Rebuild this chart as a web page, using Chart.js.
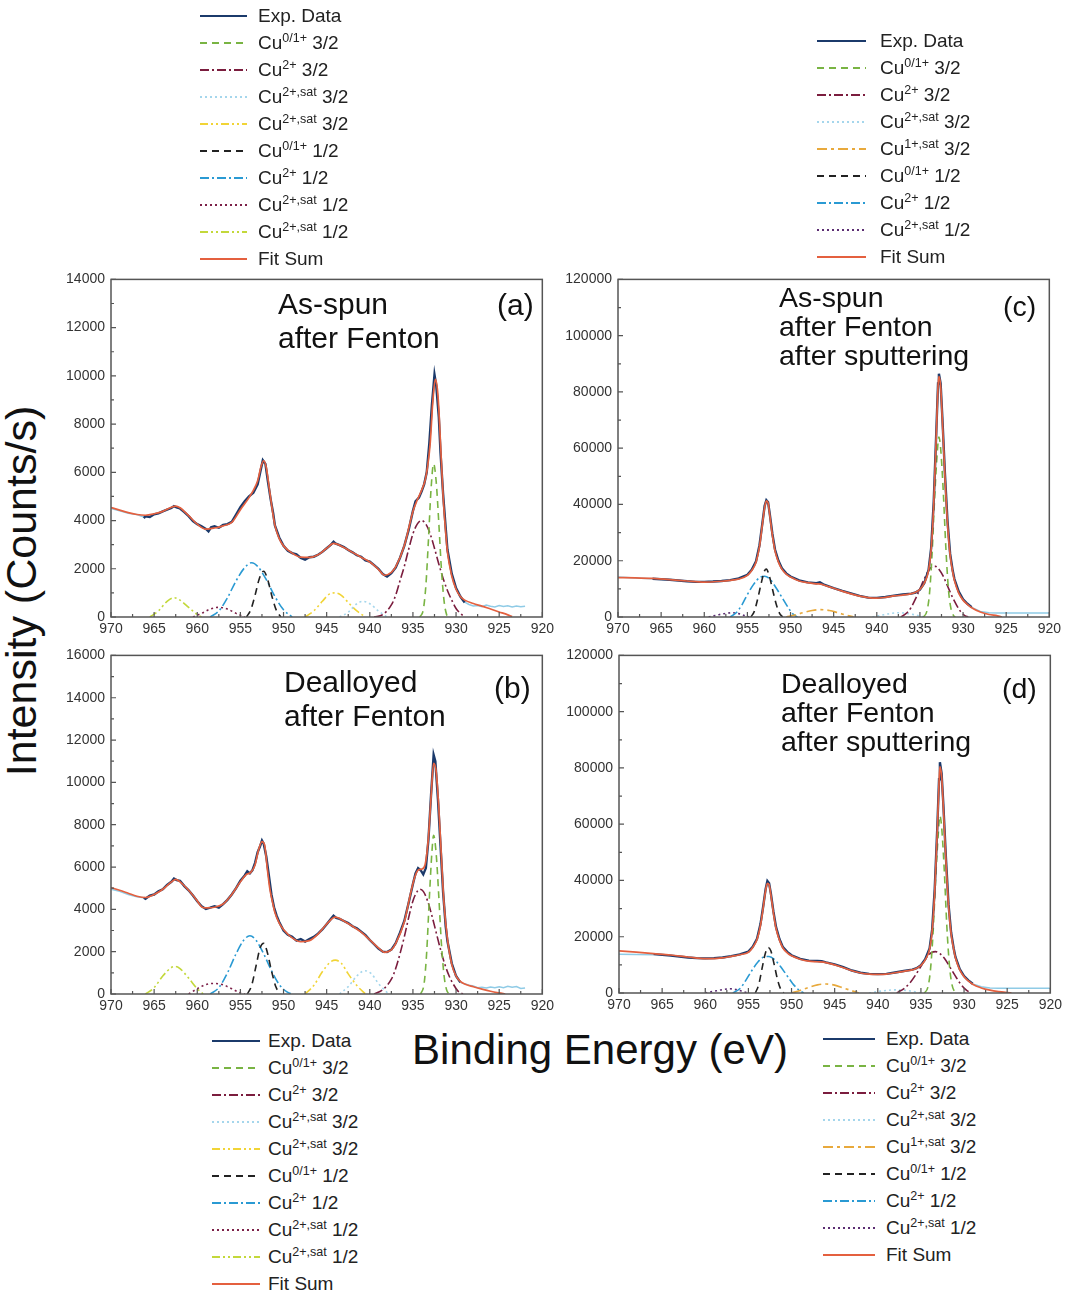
<!DOCTYPE html>
<html>
<head>
<style>
  body { margin: 0; background: #fff; font-family: "Liberation Sans", Arial, sans-serif; }
  #page { position: relative; width: 1069px; height: 1295px; overflow: hidden; }
  .plot { position: absolute; }
  .legend { position: absolute; font-size: 19px; color: #222; }
  .legend .row { height: 27px; display: flex; align-items: center; white-space: nowrap; }
  .legend sup { font-size: 12.5px; line-height: 0; vertical-align: 7px; }
  .note { position: absolute; font-size: 30px; color: #111; white-space: nowrap; }
  .axis-title { position: absolute; font-size: 42px; color: #111; white-space: nowrap; }
</style>
<script src="https://cdn.jsdelivr.net/npm/chart.js"></script>
</head>
<body>
<div id="page">
  <div class="axis-title" style="left:21px; top:591px; font-size:43px; transform:translate(-50%,-50%) rotate(-90deg);">Intensity (Counts/s)</div>
  <div class="axis-title" style="left:600px; top:1050px; transform:translate(-50%,-50%);">Binding Energy (eV)</div>
</div>

<script>
// ---- panel (a): As-spun after Fenton ----
var aExp = [[966.2,4100],[966,4180],[965.5,4150],[965,4260],[964.5,4300],[964,4380],[963.5,4450],[963,4520],[962.7,4600],[962.4,4550],[962,4500],[961.5,4350],[961,4180],[960.5,3980],[960,3850],[959.5,3760],[959,3650],[958.7,3550],[958.4,3720],[958,3760],[957.5,3700],[957,3820],[956.5,3850],[956,3950],[955.5,4250],[955,4550],[954.5,4800],[954,5000],[953.5,5150],[953,5500],[952.7,6000],[952.4,6500],[952.1,6350],[951.8,5600],[951.5,4900],[951.2,4300],[951,3800],[950.5,3300],[950,2950],[949.5,2750],[949,2650],[948.5,2600],[948,2450],[947.5,2380],[947,2480],[946.5,2500],[946,2580],[945.5,2700],[945,2850],[944.5,3000],[944.2,3120],[944,3050],[943.5,2980],[943,2900],[942.5,2780],[942,2680],[941.5,2560],[941,2500],[940.5,2350],[940,2300],[939.5,2150],[939,2000],[938.5,1780],[938,1680],[937.5,1820],[937,2050],[936.5,2450],[936,2950],[935.5,3600],[935,4400],[934.7,4800],[934.3,4950],[934,5200],[933.7,5500],[933.4,6000],[933.1,7200],[932.8,8800],[932.5,10050],[932.3,9600],[932,8300],[931.8,6800],[931.5,5100],[931.2,3700],[931,2800],[930.5,1800],[930,1200],[929.5,850],[929,600]];
var aRaw = [[970,4500],[969,4400],[968,4300],[967,4250],[966.2,4150],[966,null],[929,620],[928.5,520],[928,460],[927.5,480],[927,430],[926.5,500],[926,450],[925.5,420],[925,480],[924.5,440],[924,470],[923.5,420],[923,460],[922.5,430],[922,450]];
var aFit = [[970,4540],[969,4430],[968,4330],[967,4250],[966,4220],[965,4280],[964,4380],[963,4550],[962.5,4600],[962,4530],[961,4200],[960,3850],[959,3640],[958,3690],[957,3780],[956,3920],[955,4450],[954,4950],[953.5,5250],[953,5650],[952.6,6250],[952.3,6480],[952,6200],[951.6,5200],[951.2,4200],[951,3800],[950.5,3250],[950,2950],[949,2650],[948,2480],[947,2470],[946,2580],[945,2850],[944.2,3050],[943,2880],[942,2680],[941,2480],[940,2280],[939,1980],[938.3,1730],[937.5,1850],[937,2080],[936,2950],[935,4380],[934.5,4850],[934,5250],[933.5,5800],[933,7200],[932.7,8900],[932.4,9850],[932.1,9200],[931.8,7200],[931.5,5000],[931.2,3500],[931,2700],[930.5,1700],[930,1150],[929.5,850],[929,700],[928,560],[927,450],[926,330],[925,210],[924,90],[923.5,20]];
var aCu01_32 = [[934.2,0],[933.8,300],[933.5,1300],[933.2,3200],[932.9,5300],[932.6,6350],[932.3,5600],[932,3900],[931.7,2000],[931.4,700],[931.1,100],[930.9,0]];
var aCu2_32 = [[939.5,0],[938.5,100],[937.5,500],[937,900],[936.5,1500],[936,2100],[935.5,2800],[935,3450],[934.5,3850],[934,4000],[933.5,3850],[933,3450],[932.5,2850],[932,2200],[931.5,1600],[931,1100],[930.5,700],[930,350],[929.5,150],[929,0]];
var aSat32 = [[943.5,0],[942.5,200],[941.5,550],[940.8,650],[940,550],[939,250],[938,0]];
var aSat32y = [[947.5,0],[946.5,250],[945.5,650],[944.7,950],[944,1000],[943.3,900],[942.5,600],[941.5,250],[940.5,0]];
var aCu01_12 = [[954.3,0],[953.8,300],[953.3,900],[952.8,1600],[952.3,1900],[951.8,1500],[951.3,800],[950.8,250],[950.3,0]];
var aCu2_12 = [[958.5,0],[957.5,250],[956.5,800],[955.5,1500],[954.5,2050],[953.7,2250],[953,2100],[952,1550],[951,850],[950,300],[949,0]];
var aSat12 = [[960.5,0],[959.5,150],[958.5,330],[957.5,400],[956.5,330],[955.5,150],[954.5,0]];
var aSat12g = [[965.5,0],[964.5,250],[963.5,650],[962.7,800],[962,700],[961,400],[960,100],[959.5,0]];

// ---- panel (b): Dealloyed after Fenton ----
var bExp = [[966.2,4550],[966,4500],[965.5,4650],[965,4700],[964.5,4850],[964,4950],[963.5,5150],[963,5300],[962.7,5450],[962.4,5380],[962,5350],[961.5,5100],[961,4900],[960.5,4650],[960,4380],[959.5,4150],[959,4020],[958.5,4080],[958,4150],[957.5,4080],[957,4250],[956.5,4450],[956,4700],[955.5,5000],[955,5350],[954.5,5600],[954.2,5800],[953.9,5700],[953.6,5850],[953.3,6200],[953,6700],[952.7,7000],[952.5,7250],[952.3,7100],[952,6500],[951.7,5600],[951.4,4700],[951.1,4100],[950.8,3700],[950.5,3400],[950,3000],[949.5,2800],[949,2700],[948.5,2520],[948,2600],[947.5,2480],[947,2600],[946.5,2700],[946,2850],[945.5,3050],[945,3300],[944.5,3550],[944.2,3700],[943.9,3600],[943.5,3550],[943,3450],[942.5,3350],[942,3200],[941.5,3100],[941,2950],[940.5,2780],[940,2550],[939.5,2350],[939,2150],[938.5,2000],[938,1980],[937.5,2100],[937,2400],[936.5,2900],[936,3450],[935.5,4300],[935,5200],[934.7,5700],[934.4,5950],[934.1,5850],[933.8,5650],[933.5,5950],[933.2,7300],[932.9,9400],[932.6,11300],[932.4,11000],[932.1,9200],[931.8,7000],[931.5,4800],[931.2,3200],[931,2500],[930.5,1450],[930,850],[929.5,550]];
var bRaw = [[970,4950],[969,4850],[968,4700],[967,4600],[966.2,4550],[966,null],[929.5,550],[929,480],[928.5,420],[928,380],[927.5,300],[927,320],[926.5,280],[926,330],[925.5,300],[925,340],[924.5,300],[924,360],[923.5,320],[923,350],[922.5,260],[922,280]];
var bFit = [[970,5030],[969,4900],[968,4760],[967,4620],[966,4560],[965,4700],[964,4950],[963,5300],[962.5,5420],[962,5300],[961,4900],[960,4400],[959.5,4120],[959,4070],[958,4100],[957,4250],[956,4700],[955,5300],[954.3,5650],[953.8,5750],[953.3,6100],[952.9,6800],[952.5,7200],[952.2,7050],[951.9,6000],[951.6,5000],[951.2,4200],[951,3850],[950.5,3350],[950,3050],[949,2650],[948,2470],[947,2520],[946,2830],[945,3300],[944,3630],[943,3450],[942,3200],[941,2920],[940,2560],[939,2180],[938.3,1970],[937.5,2080],[937,2380],[936,3400],[935.3,4700],[934.8,5500],[934.4,5850],[934,5900],[933.6,6100],[933.2,7400],[932.9,9300],[932.6,10900],[932.3,10500],[932,8800],[931.7,6500],[931.4,4300],[931,2600],[930.5,1400],[930,850],[929.5,600],[929,470],[928,340],[927,230],[926,130],[925,50],[924.3,0]];
var bCu01_32 = [[934.1,0],[933.7,500],[933.4,2000],[933.1,4500],[932.8,6700],[932.6,7500],[932.3,6600],[932,4600],[931.7,2400],[931.4,900],[931.1,200],[930.8,0]];
var bCu2_32 = [[939.5,0],[938.5,200],[937.5,700],[937,1200],[936.5,1900],[936,2700],[935.5,3600],[935,4400],[934.5,4850],[934.2,4950],[933.8,4850],[933.3,4400],[932.8,3700],[932.3,2900],[931.8,2100],[931.3,1400],[930.8,850],[930.3,450],[929.8,150],[929.2,0]];
var bSat32 = [[943.5,0],[942.5,350],[941.5,850],[940.6,1100],[939.8,950],[939,500],[938.2,150],[937.8,0]];
var bSat32y = [[947.5,0],[946.5,400],[945.5,1050],[944.6,1500],[944,1600],[943.3,1450],[942.5,950],[941.5,400],[940.5,0]];
var bCu01_12 = [[954.2,0],[953.7,400],[953.2,1300],[952.7,2200],[952.3,2400],[951.9,2000],[951.4,1100],[950.9,350],[950.4,0]];
var bCu2_12 = [[958.5,0],[957.5,300],[956.5,1000],[955.5,1900],[954.6,2550],[953.9,2750],[953.2,2550],[952.3,1900],[951.4,1100],[950.5,450],[949.6,100],[949,0]];
var bSat12 = [[961,0],[960,250],[959,450],[958,500],[957,430],[956,250],[955,50],[954.5,0]];
var bSat12g = [[966,0],[965,300],[964,850],[963,1250],[962.5,1300],[962,1200],[961,750],[960,250],[959.3,0]];

// ---- panel (c): As-spun after Fenton after sputtering ----
var cExp = [[966,13600],[964,13250],[962,12700],[961,12500],[960,12500],[959,12600],[958,12800],[957,13100],[956,13700],[955,15000],[954.5,16800],[954,19800],[953.6,25500],[953.3,32500],[953,39500],[952.8,41500],[952.6,40800],[952.4,36500],[952.1,29500],[951.8,24000],[951.4,20000],[951,17300],[950.5,15500],[950,14400],[949,13000],[948,12300],[947,12000],[946.6,12300],[946.2,11600],[945,10300],[944,9300],[943,8400],[942,7500],[941,6900],[940,6800],[939,7100],[938,7600],[937,8000],[936,8300],[935.5,8700],[935,9700],[934.5,12000],[934,16700],[933.7,24500],[933.4,41000],[933.1,66000],[932.9,83000],[932.8,86500],[932.6,83000],[932.4,71000],[932.1,51000],[931.8,34000],[931.5,22500],[931.2,16500],[931,13500],[930.5,9000],[930,6300],[929.5,4700],[929,3500]];
var cRaw = [[970,14200],[968,13900],[966,13600],[965.8,null],[929,3400],[928,2000],[927,1500],[926,1400],[925,1400],[924,1400],[923,1400],[922,1400],[921,1400],[920,1400]];
var cFit = [[970,14000],[968,13900],[966,13700],[964,13300],[962,12800],[960,12400],[958,12700],[957,13000],[956,13500],[955,14800],[954.5,16500],[954,19500],[953.6,25000],[953.3,32000],[953,39000],[952.8,41300],[952.6,40500],[952.4,36000],[952.1,29000],[951.8,23500],[951.4,19500],[951,17000],[950.5,15200],[950,14200],[949,12800],[948,12200],[947,11800],[946.5,11700],[946,11200],[945,10200],[944,9200],[943,8200],[942,7400],[941,6900],[940,6700],[939,7000],[938,7500],[937,7800],[936,8300],[935.5,8800],[935,9800],[934.5,12000],[934,16500],[933.7,24000],[933.4,40000],[933.1,65000],[932.9,82000],[932.8,85500],[932.6,82000],[932.4,70000],[932.1,50000],[931.8,33000],[931.5,22000],[931.2,16000],[931,13000],[930.5,8500],[930,6000],[929.5,4500],[929,3300],[928,1800],[927,900],[926,400],[925.5,0]];
var cCu01_32 = [[934.6,0],[934.2,2000],[933.9,8000],[933.6,22000],[933.3,42000],[933,58000],[932.8,64000],[932.6,60000],[932.3,45000],[932,25000],[931.7,10000],[931.4,3000],[931.1,500],[930.9,0]];
var cCu2_32 = [[937.2,0],[936.5,1500],[936,3500],[935.5,6500],[935,10000],[934.5,13500],[934,16500],[933.5,18000],[933.2,18000],[932.8,17000],[932.3,14500],[931.8,11000],[931.3,7500],[930.8,4500],[930.3,2000],[929.8,500],[929.4,0]];
var cSat32 = [[940.5,0],[939.5,600],[938.5,1200],[937.5,1500],[936.5,1300],[935.5,700],[934.5,0]];
var cSat1_32 = [[950.5,0],[949.5,700],[948.5,1600],[947.5,2300],[946.5,2600],[945.5,2300],[944.5,1500],[943.5,600],[942.7,0]];
var cCu01_12 = [[954.6,0],[954.2,2000],[953.8,6500],[953.4,12000],[953,16500],[952.8,17000],[952.5,15000],[952.1,10000],[951.7,5000],[951.3,1500],[950.9,0]];
var cCu2_12 = [[957,0],[956.3,1500],[955.6,4500],[955,8000],[954.3,11500],[953.6,14000],[953,14500],[952.4,13500],[951.7,10500],[951,7000],[950.3,3500],[949.7,1000],[949.2,0]];
var cSat12 = [[959.5,0],[958.5,700],[957.5,1300],[956.8,1500],[956,1200],[955.3,500],[954.8,0]];

// ---- panel (d): Dealloyed after Fenton after sputtering ----
var dExp = [[966,13800],[964,13300],[962,12600],[961,12400],[960,12300],[959,12400],[958,12600],[957,13100],[956,13700],[955,14700],[954.5,16400],[954,19300],[953.6,24500],[953.3,30500],[953,37000],[952.8,39800],[952.6,39000],[952.4,35500],[952.1,29000],[951.8,23500],[951.4,19200],[951,16300],[950.5,14600],[950,13400],[949,12100],[948,11500],[947,11400],[946.5,11300],[946,10900],[945,10200],[944,9200],[943,8000],[942,7200],[941,6800],[940,6700],[939,6800],[938,7300],[937,7800],[936,8300],[935.5,8800],[935,9900],[934.5,12000],[934,15800],[933.7,22500],[933.4,37000],[933.1,59000],[932.9,76000],[932.8,82000],[932.6,78000],[932.4,67000],[932.1,48000],[931.8,31500],[931.5,21500],[931.2,15800],[931,12800],[930.5,8500],[930,6000],[929.5,4500],[929,3300]];
var dRaw = [[970,13800],[968,13700],[966,13600],[965.8,null],[929,3200],[928,2200],[927,1800],[926,1700],[925,1700],[924,1700],[923,1700],[922,1700],[921,1700],[920,1700]];
var dFit = [[970,15000],[968,14500],[966,14000],[964,13500],[962,12800],[960,12200],[958,12500],[957,13000],[956,13600],[955,14500],[954.5,16200],[954,19000],[953.6,24000],[953.3,30000],[953,36500],[952.8,39000],[952.6,38500],[952.4,35000],[952.1,28500],[951.8,23000],[951.4,18800],[951,16000],[950.5,14300],[950,13200],[949,12000],[948,11300],[947,11100],[946,10800],[945,10000],[944,9000],[943,7900],[942,7100],[941,6700],[940,6600],[939,6700],[938,7200],[937,7700],[936,8200],[935.5,8800],[935,9800],[934.5,11800],[934,15500],[933.7,22000],[933.4,36000],[933.1,58000],[932.9,75000],[932.8,80500],[932.6,77000],[932.4,66000],[932.1,47000],[931.8,31000],[931.5,21000],[931.2,15500],[931,12500],[930.5,8200],[930,5800],[929.5,4300],[929,3100],[928,1800],[927,1000],[926,500],[925,150],[924.5,0]];
var dCu01_32 = [[934.6,0],[934.2,2000],[933.9,8000],[933.6,21000],[933.3,40000],[933,56000],[932.8,63000],[932.6,59000],[932.3,44000],[932,24000],[931.7,10000],[931.4,3000],[931.1,500],[930.9,0]];
var dCu2_32 = [[937.8,0],[937,1500],[936.3,3500],[935.6,6500],[935,9500],[934.4,12500],[933.8,14300],[933.3,14700],[932.8,14000],[932.2,12000],[931.6,9000],[931,6000],[930.4,3200],[929.8,1200],[929.2,0]];
var dSat32 = [[941,0],[940,500],[939,900],[938,1100],[937,1000],[936,600],[935,0]];
var dSat1_32 = [[950,0],[949,900],[948,2000],[947,2900],[946,3200],[945,2800],[944,1800],[943,800],[942.2,0]];
var dCu01_12 = [[954.2,0],[953.8,3000],[953.4,9000],[953,14500],[952.7,16200],[952.4,15000],[952,10000],[951.6,4500],[951.2,1000],[950.9,0]];
var dCu2_12 = [[956.8,0],[956,1500],[955.3,4500],[954.6,8000],[953.9,11000],[953.2,12800],[952.6,13000],[952,12000],[951.3,9500],[950.6,6500],[949.9,3500],[949.2,1200],[948.6,0]];
var dSat12 = [[960,0],[959,600],[958,1200],[957.2,1500],[956.4,1200],[955.6,500],[955,0]];

// legend order
var leftKeys = ['exp','cu01_32','cu2_32','sat32','sat32y','cu01_12','cu2_12','sat12','sat12g','fit'];
var rightKeys = ['exp','cu01_32','cu2_32','sat32','sat1_32','cu01_12','cu2_12','sat12p','fit'];

var LABELS = {
  exp: 'Exp. Data',
  cu01_32: 'Cu<sup>0/1+</sup> 3/2',
  cu2_32: 'Cu<sup>2+</sup> 3/2',
  sat32: 'Cu<sup>2+,sat</sup> 3/2',
  sat32y: 'Cu<sup>2+,sat</sup> 3/2',
  sat1_32: 'Cu<sup>1+,sat</sup> 3/2',
  cu01_12: 'Cu<sup>0/1+</sup> 1/2',
  cu2_12: 'Cu<sup>2+</sup> 1/2',
  sat12: 'Cu<sup>2+,sat</sup> 1/2',
  sat12p: 'Cu<sup>2+,sat</sup> 1/2',
  sat12g: 'Cu<sup>2+,sat</sup> 1/2',
  fit: 'Fit Sum'
};

var STYLE = {
  raw:     { color: '#8fcbe6', width: 1.5, dash: [], order: 3 },
  exp:     { color: '#1b3a6b', width: 2.4, dash: [], order: 2 },
  fit:     { color: '#e4603f', width: 1.7, dash: [], order: 1, smooth: true },
  cu01_32: { color: '#79b443', width: 1.6, dash: [7, 5], order: 4, smooth: true },
  cu2_32:  { color: '#7b1d3e', width: 1.6, dash: [9, 3, 2, 3], order: 4, smooth: true },
  sat32:   { color: '#a5d6ec', width: 1.6, dash: [2, 3], order: 4, smooth: true },
  sat32y:  { color: '#f1d436', width: 1.6, dash: [8, 3, 2, 3, 2, 3], order: 4, smooth: true },
  sat1_32: { color: '#e8a93c', width: 1.7, dash: [10, 4, 3, 4], order: 4, smooth: true },
  cu01_12: { color: '#222222', width: 1.6, dash: [7, 5], order: 4, smooth: true },
  cu2_12:  { color: '#2a9ad3', width: 1.6, dash: [9, 3, 2, 3], order: 4, smooth: true },
  sat12:   { color: '#7c2048', width: 1.6, dash: [2, 3], order: 4, smooth: true },
  sat12p:  { color: '#5b2d72', width: 1.6, dash: [2, 3], order: 4, smooth: true },
  sat12g:  { color: '#c3d83a', width: 1.6, dash: [8, 3, 2, 3, 2, 3], order: 4, smooth: true }
};

var panels = [
  { left: 51, top: 265, h: 376, yMax: 14000, yStep: 2000,
    series: { raw: aRaw, exp: aExp, fit: aFit, cu01_32: aCu01_32, cu2_32: aCu2_32, sat32: aSat32, sat32y: aSat32y, cu01_12: aCu01_12, cu2_12: aCu2_12, sat12: aSat12, sat12g: aSat12g },
    notes: [{ x: 278, y: 304, lh: 34, fs: 30, text: ['As-spun', 'after Fenton'] }, { x: 497, y: 305, lh: 34, fs: 30, text: ['(a)'] }] },
  { left: 558, top: 265, h: 376, yMax: 120000, yStep: 20000,
    series: { raw: cRaw, exp: cExp, fit: cFit, cu01_32: cCu01_32, cu2_32: cCu2_32, sat32: cSat32, sat1_32: cSat1_32, cu01_12: cCu01_12, cu2_12: cCu2_12, sat12p: cSat12 },
    notes: [{ x: 779, y: 297, lh: 29, fs: 28.5, text: ['As-spun', 'after Fenton', 'after sputtering'] }, { x: 1003, y: 306, lh: 29, fs: 28.5, text: ['(c)'] }] },
  { left: 51, top: 641, h: 377, yMax: 16000, yStep: 2000,
    series: { raw: bRaw, exp: bExp, fit: bFit, cu01_32: bCu01_32, cu2_32: bCu2_32, sat32: bSat32, sat32y: bSat32y, cu01_12: bCu01_12, cu2_12: bCu2_12, sat12: bSat12, sat12g: bSat12g },
    notes: [{ x: 284, y: 682, lh: 34, fs: 30, text: ['Dealloyed', 'after Fenton'] }, { x: 494, y: 688, lh: 34, fs: 30, text: ['(b)'] }] },
  { left: 559, top: 641, h: 376, yMax: 120000, yStep: 20000,
    series: { raw: dRaw, exp: dExp, fit: dFit, cu01_32: dCu01_32, cu2_32: dCu2_32, sat32: dSat32, sat1_32: dSat1_32, cu01_12: dCu01_12, cu2_12: dCu2_12, sat12p: dSat12 },
    notes: [{ x: 781, y: 683, lh: 29, fs: 28.5, text: ['Dealloyed', 'after Fenton', 'after sputtering'] }, { x: 1002, y: 688, lh: 29, fs: 28.5, text: ['(d)'] }] }
];

var legends = [
  { left: 200, top: 2.5, line: 47, gap: 11, keys: leftKeys },
  { left: 817, top: 27.5, line: 49, gap: 14, keys: rightKeys },
  { left: 212, top: 1027.5, line: 48, gap: 8, keys: leftKeys },
  { left: 823, top: 1025.5, line: 52, gap: 11, keys: rightKeys }
];

var FONT = '"Liberation Sans", Arial, sans-serif';
var page = document.getElementById('page');

function toXY(arr) {
  return arr.map(function (p) { return { x: p[0], y: p[1] }; });
}

// frame box and inward ticks (major + minor halfway)
var frameTicks = {
  id: 'frameTicks',
  afterDatasetsDraw: function (chart) {
    var ctx = chart.ctx, a = chart.chartArea, x = chart.scales.x, y = chart.scales.y;
    ctx.save();
    ctx.strokeStyle = '#555';
    ctx.lineWidth = 1.5;
    ctx.strokeRect(a.left, a.top, a.right - a.left, a.bottom - a.top);
    ctx.lineWidth = 1.2;
    ctx.beginPath();
    var xt = x.ticks.map(function (t) { return t.value; });
    xt.forEach(function (v, i) {
      var px = x.getPixelForValue(v);
      ctx.moveTo(px, a.bottom); ctx.lineTo(px, a.bottom - 5);
      if (i > 0) {
        var mx = x.getPixelForValue((v + xt[i - 1]) / 2);
        ctx.moveTo(mx, a.bottom); ctx.lineTo(mx, a.bottom - 3);
      }
    });
    var yt = y.ticks.map(function (t) { return t.value; });
    yt.forEach(function (v, i) {
      var py = y.getPixelForValue(v);
      ctx.moveTo(a.left, py); ctx.lineTo(a.left + 5, py);
      if (i > 0) {
        var my = y.getPixelForValue((v + yt[i - 1]) / 2);
        ctx.moveTo(a.left, my); ctx.lineTo(a.left + 3, my);
      }
    });
    ctx.stroke();
    ctx.restore();
  }
};

panels.forEach(function (p) {
  var box = document.createElement('div');
  box.className = 'plot';
  box.style.left = p.left + 'px';
  box.style.top = p.top + 'px';
  var cv = document.createElement('canvas');
  cv.width = 507; cv.height = p.h;
  cv.style.width = '507px'; cv.style.height = p.h + 'px';
  box.appendChild(cv);
  page.appendChild(box);

  var datasets = Object.keys(p.series).map(function (k) {
    var s = STYLE[k];
    var ds = {
      label: k === 'raw' ? '' : (LABELS[k] || '').replace(/<\/?sup>/g, ''),
      data: toXY(p.series[k]),
      borderColor: s.color,
      borderWidth: s.width,
      borderDash: s.dash,
      pointRadius: 0,
      fill: false,
      spanGaps: false,
      order: s.order,
      tension: 0
    };
    if (s.smooth) ds.cubicInterpolationMode = 'monotone';
    return ds;
  });

  new Chart(cv.getContext('2d'), {
    type: 'line',
    data: { datasets: datasets },
    options: {
      responsive: false,
      animation: false,
      layout: { padding: { top: 8, right: 15, left: 0, bottom: 0 } },
      plugins: { legend: { display: false }, tooltip: { enabled: false } },
      scales: {
        x: {
          type: 'linear', reverse: true, min: 920, max: 970,
          grid: { display: false, drawTicks: false }, border: { display: false },
          ticks: { stepSize: 5, autoSkip: false, maxRotation: 0, padding: 4, color: '#333',
                   font: { size: 14, family: FONT }, callback: function (v) { return String(v); } },
          afterFit: function (s) { s.height = 24; }
        },
        y: {
          min: 0, max: p.yMax,
          grid: { display: false, drawTicks: false }, border: { display: false },
          ticks: { stepSize: p.yStep, padding: 6, color: '#333',
                   font: { size: 14, family: FONT }, callback: function (v) { return String(v); } },
          afterFit: function (s) { s.width = 60; }
        }
      }
    },
    plugins: [frameTicks]
  });

  p.notes.forEach(function (n) {
    var d = document.createElement('div');
    d.className = 'note';
    d.style.left = n.x + 'px';
    d.style.top = (n.y - n.lh / 2) + 'px';
    d.style.lineHeight = n.lh + 'px';
    d.style.fontSize = n.fs + 'px';
    d.innerHTML = n.text.join('<br>');
    page.appendChild(d);
  });
});

legends.forEach(function (L) {
  var el = document.createElement('div');
  el.className = 'legend';
  el.style.left = L.left + 'px';
  el.style.top = L.top + 'px';
  L.keys.forEach(function (k) {
    var s = STYLE[k];
    var row = document.createElement('div');
    row.className = 'row';
    var dash = s.dash.length ? ' stroke-dasharray="' + s.dash.join(',') + '"' : '';
    row.innerHTML = '<svg width="' + L.line + '" height="6" style="margin-right:' + L.gap + 'px">' +
      '<line x1="0" y1="3" x2="' + L.line + '" y2="3" stroke="' + s.color + '" stroke-width="2.2"' + dash + '/></svg>' +
      '<span>' + LABELS[k] + '</span>';
    el.appendChild(row);
  });
  page.appendChild(el);
});
</script>
</body>
</html>
